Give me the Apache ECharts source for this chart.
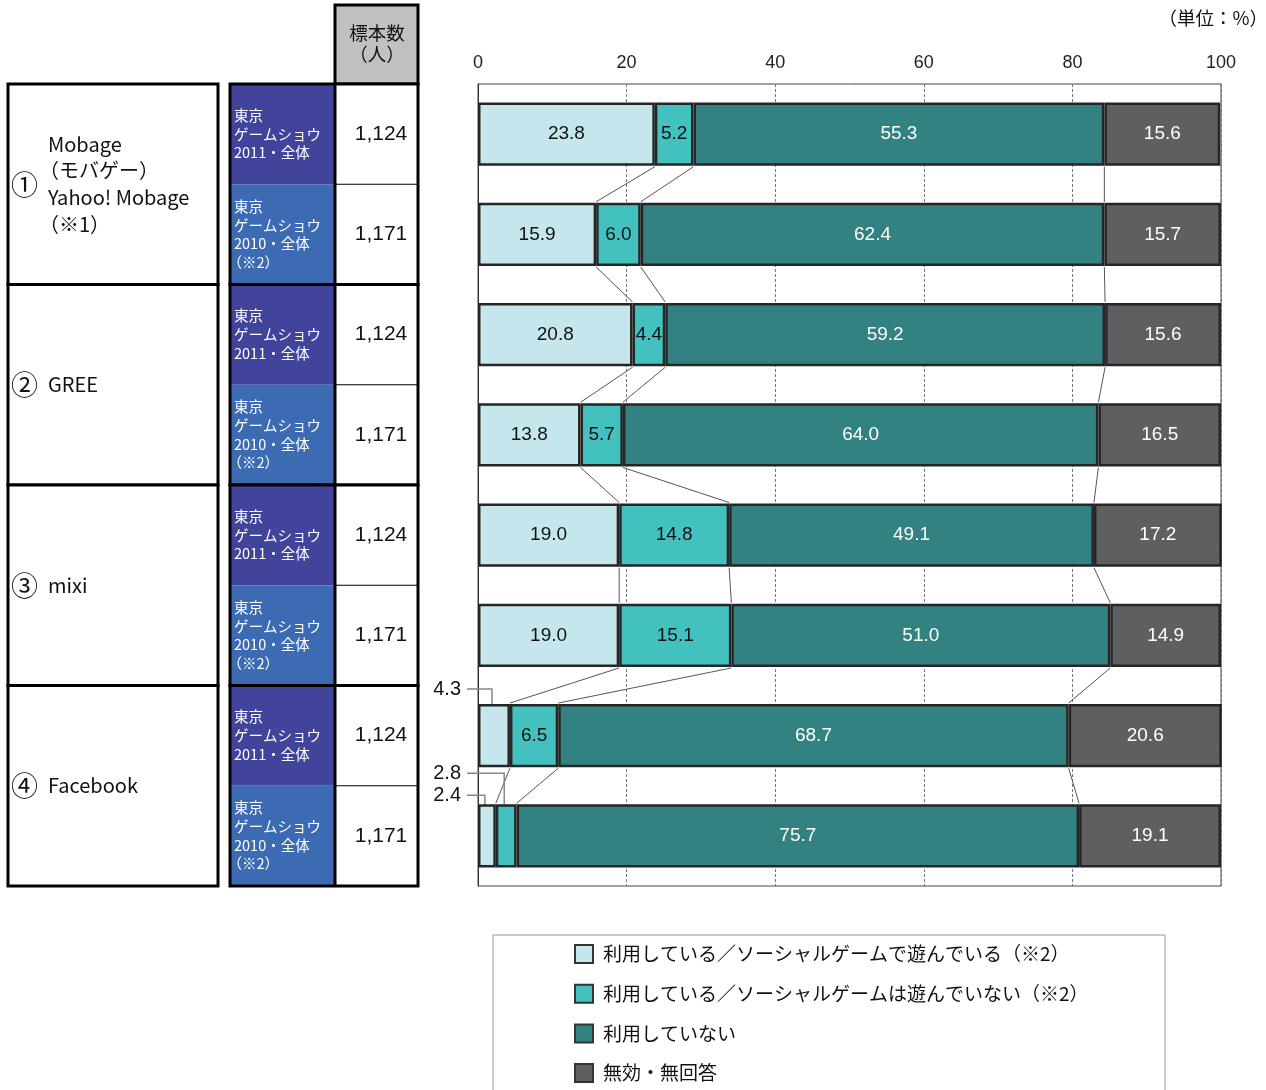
<!DOCTYPE html>
<html>
<head>
<meta charset="utf-8">
<script src="https://cdn.jsdelivr.net/npm/echarts@6/dist/echarts.min.js"></script>
<style>
html,body{margin:0;padding:0;background:#fff;}
#chart{width:1266px;height:1090px;}
</style>
</head>
<body>
<div id="chart"></div>
<script>
// ---------- data ----------
const categories = ['Mobage 2011','Mobage 2010','GREE 2011','GREE 2010','mixi 2011','mixi 2010','Facebook 2011','Facebook 2010'];
const seriesNames = ['利用している／ソーシャルゲームで遊んでいる（※2）','利用している／ソーシャルゲームは遊んでいない（※2）','利用していない','無効・無回答'];
const playing    = [23.8, 15.9, 20.8, 13.8, 19.0, 19.0, 4.3, 2.4];
const notPlaying = [5.2, 6.0, 4.4, 5.7, 14.8, 15.1, 6.5, 2.8];
const notUsing   = [55.3, 62.4, 59.2, 64.0, 49.1, 51.0, 68.7, 75.7];
const noAnswer   = [15.6, 15.7, 15.6, 16.5, 17.2, 14.9, 20.6, 19.1];
const sampleSizes = ['1,124','1,171','1,124','1,171','1,124','1,171','1,124','1,171'];
const serviceNums = ['①','②','③','④'];
const serviceNames = [['Mobage','（モバゲー）','Yahoo! Mobage','（※1）'],['GREE'],['mixi'],['Facebook']];
const surveyLabels = [['東京','ゲームショウ','2011・全体'],['東京','ゲームショウ','2010・全体','（※2）']];
const xTicks = [0, 20, 40, 60, 80, 100];
// small values labelled outside with leader lines: [seriesIndex, rowIndex]
const outsideLabels = [[0, 6], [1, 7], [0, 7]];

// ---------- style / layout ----------
const colors = ['#C5E6EC', '#43C1BF', '#338282', '#5F5E60'];
const labelColors = ['#111', '#111', '#fff', '#fff'];
const gridLeft = 478, gridRight = 1221, gridTop = 84, gridBottom = 886;
const barRatio = 0.63;
const leaderRise = [15, 31, 9];   // px above bar top for each outside label
const rowH = (gridBottom - gridTop) / categories.length;
const numFont = "'Liberation Sans Narrow','Liberation Sans',Arial,sans-serif";
const jpFont = "'Noto Sans CJK JP','Noto Sans',sans-serif";

const values = [playing, notPlaying, notUsing, noAnswer];

function isOutside(s, i) {
  return outsideLabels.some(o => o[0] === s && o[1] === i);
}
function parenShift(t, size) {
  return t.charAt(0) === '（' ? -size * 0.45 : 0;
}

// cumulative boundaries
const cum = categories.map((c, i) => {
  let acc = 0; const arr = [];
  for (let s = 0; s < 3; s++) { acc += values[s][i]; arr.push(+acc.toFixed(2)); }
  return arr;
});
const connectorData = [];
for (let i = 0; i < categories.length - 1; i++) {
  for (let k = 0; k < 3; k++) connectorData.push([cum[i][k], i, cum[i + 1][k], i + 1]);
}
const leaderData = outsideLabels.map(o => {
  const s = o[0], i = o[1];
  let start = 0; for (let t = 0; t < s; t++) start += values[t][i];
  return [start, start + values[s][i], i, values[s][i].toFixed(1)];
});

// ---------- table graphics ----------
const graphic = [];
// header
graphic.push({type:'rect', shape:{x:335, y:5, width:83, height:gridTop-5}, style:{fill:'#C0C0C0', stroke:'#000', lineWidth:3}});
graphic.push({type:'text', style:{text:'標本数', x:377, y:33, align:'center', verticalAlign:'middle', font:'18.5px ' + jpFont, fill:'#111'}});
graphic.push({type:'text', style:{text:'（人）', x:377, y:54, align:'center', verticalAlign:'middle', font:'18.5px ' + jpFont, fill:'#111'}});
for (let g = 0; g < 4; g++) {
  const top = gridTop + g * rowH * 2;
  const h = rowH * 2;
  graphic.push({type:'rect', shape:{x:8, y:top, width:210, height:h}, style:{fill:'#fff', stroke:'#000', lineWidth:3}});
  const cy = top + h / 2;
  graphic.push({type:'text', style:{text:serviceNums[g], x:11, y:cy, align:'left', verticalAlign:'middle', font:'27px ' + jpFont, fill:'#111'}});
  const lines = serviceNames[g];
  const lh = 26.7;
  lines.forEach((t, j) => {
    graphic.push({type:'text', style:{text:t, x:48 + parenShift(t, 20), y:cy + (j - (lines.length - 1) / 2) * lh, align:'left', verticalAlign:'middle', font:'20px ' + jpFont, fill:'#111'}});
  });
  for (let r = 0; r < 2; r++) {
    const rt = top + r * rowH;
    graphic.push({type:'rect', shape:{x:230, y:rt, width:105, height:rowH}, style:{fill: r === 0 ? '#41449A' : '#3D6BB3'}});
    graphic.push({type:'rect', shape:{x:335, y:rt, width:83, height:rowH}, style:{fill:'#fff'}});
    const sl = surveyLabels[r];
    const slh = 18.7;
    sl.forEach((t, j) => {
      graphic.push({type:'text', style:{text:t, x:234 + parenShift(t, 14.5), y:rt + rowH / 2 + (j - (sl.length - 1) / 2) * slh, align:'left', verticalAlign:'middle', font:'14.5px ' + jpFont, fill:'#fff'}});
    });
    graphic.push({type:'text', style:{text:sampleSizes[g * 2 + r], x:381, y:rt + rowH / 2, align:'center', verticalAlign:'middle', font:'21px ' + numFont, fill:'#111'}});
  }
  graphic.push({type:'line', shape:{x1:335, y1:top + rowH, x2:418, y2:top + rowH}, style:{stroke:'#000', lineWidth:1}});
  graphic.push({type:'rect', shape:{x:230, y:top, width:188, height:h}, style:{fill:null, stroke:'#000', lineWidth:3}});
  graphic.push({type:'line', shape:{x1:335, y1:top, x2:335, y2:top + h}, style:{stroke:'#000', lineWidth:3}});
}
// unit label
graphic.push({type:'text', style:{text:'（単位：%）', x:1268, y:18, align:'right', verticalAlign:'middle', font:'18.5px ' + jpFont, fill:'#111'}});
// legend box
graphic.push({type:'rect', shape:{x:493, y:935, width:672, height:170}, style:{fill:null, stroke:'#999', lineWidth:1}});

// ---------- chart ----------
const chart = echarts.init(document.getElementById('chart'), null, {renderer:'canvas'});

const barSeries = values.map((arr, s) => ({
  name: seriesNames[s],
  type: 'bar',
  stack: 'total',
  barCategoryGap: ((1 - barRatio) * 100) + '%',
  data: arr.map((v, i) => ({value: v, label: {show: !isOutside(s, i)}})),
  itemStyle: {color: colors[s], borderColor: '#262626', borderWidth: 2.5},
  label: {
    show: true, position: 'inside', color: labelColors[s],
    fontSize: 19, fontFamily: numFont,
    formatter: p => p.value.toFixed(1)
  },
  emphasis: {disabled: true}
}));

const option = {
  animation: false,
  backgroundColor: '#fff',
  grid: {left: gridLeft, right: 1266 - gridRight, top: gridTop, bottom: 1090 - gridBottom, show: true, borderColor: '#444', borderWidth: 1},
  xAxis: {
    type: 'value', position: 'top', min: xTicks[0], max: xTicks[xTicks.length - 1], interval: xTicks[1] - xTicks[0],
    axisLine: {show: false}, axisTick: {show: false},
    axisLabel: {fontSize: 18, fontFamily: "'Liberation Sans',Arial,sans-serif", color: '#222', margin: 12},
    splitLine: {show: true, lineStyle: {color: '#777', type: [3, 2], width: 1}}
  },
  yAxis: {
    type: 'category', data: categories, inverse: true,
    axisLabel: {show: false}, axisTick: {show: false},
    axisLine: {show: true, lineStyle: {color: '#333', width: 1}}
  },
  legend: {
    orient: 'vertical', left: 574, top: 944, padding: 0, itemWidth: 18, itemHeight: 18, itemGap: 19.7,
    icon: 'rect',
    itemStyle: {borderColor: '#333', borderWidth: 2},
    textStyle: {fontSize: 19, fontFamily: jpFont, color: '#111', padding: [0, 0, 0, 5]},
    data: seriesNames,
    selectedMode: false
  },
  graphic: graphic,
  series: barSeries.concat([
    {
      type: 'custom', name: 'connectors', silent: true, clip: false,
      encode: {x: [0, 2], y: [1, 3]},
      data: connectorData,
      renderItem: (params, api) => {
        const p1 = api.coord([api.value(0), api.value(1)]);
        const p2 = api.coord([api.value(2), api.value(3)]);
        const half = api.size([0, 1])[1] * barRatio / 2;
        return {type: 'line', shape: {x1: p1[0], y1: p1[1] + half + 1, x2: p2[0], y2: p2[1] - half - 1}, style: {stroke: '#555', lineWidth: 1}};
      }
    },
    {
      type: 'custom', name: 'leaders', silent: true, clip: false,
      encode: {x: [0, 1], y: 2},
      data: leaderData,
      renderItem: (params, api) => {
        const from = api.value(0), to = api.value(1), row = api.value(2);
        const mid = api.coord([(from + to) / 2, row]);
        const left = api.coord([0, row])[0];
        const half = api.size([0, 1])[1] * barRatio / 2;
        const ly = mid[1] - half - leaderRise[params.dataIndex];
        const lx = left - 17;
        return {type: 'group', children: [
          {type: 'polyline', shape: {points: [[lx + 6, ly], [mid[0] - 2, ly], [mid[0] - 2, mid[1] - 7]]}, style: {stroke: '#888', lineWidth: 1.5, fill: null}},
          {type: 'text', style: {text: leaderData[params.dataIndex][3], x: lx, y: ly, align: 'right', verticalAlign: 'middle', font: '20px ' + numFont, fill: '#111'}}
        ]};
      }
    }
  ])
};
chart.setOption(option);
</script>
</body>
</html>
